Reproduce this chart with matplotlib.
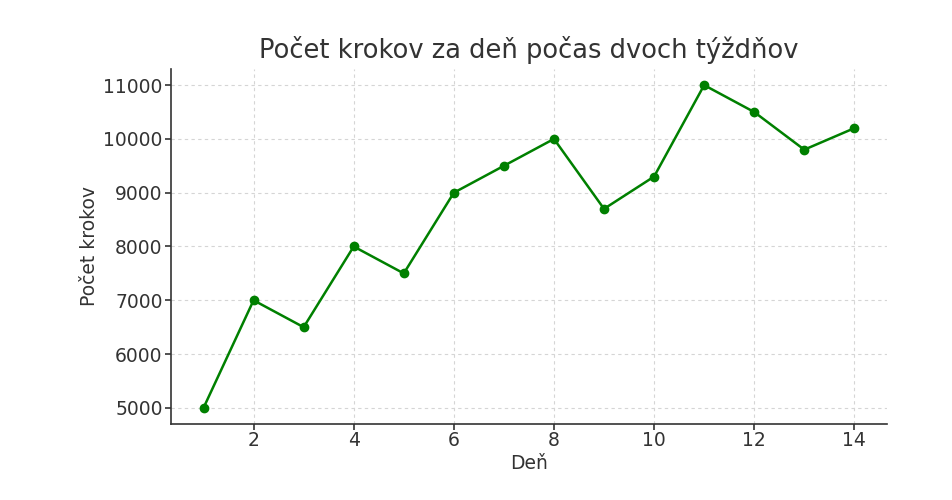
import matplotlib
matplotlib.use("Agg")
import matplotlib.pyplot as plt

days = list(range(1, 15))
steps = [5000, 7000, 6500, 8000, 7500, 9000, 9500, 10000, 8700, 9300, 11000, 10500, 9800, 10200]
title = "Počet krokov za deň počas dvoch týždňov"
xlabel = "Deň"
ylabel = "Počet krokov"

plt.rcParams['font.family'] = ['DejaVu Sans']
txt = '#333333'
fig = plt.figure(figsize=(9.52, 5.0), dpi=100)
ax = fig.add_axes([0.1796, 0.152, 0.752, 0.710])
ax.plot(days, steps, color='green', marker='o', linewidth=1.8, markersize=6)
ax.set_title(title, fontsize=18.5, color=txt, pad=8)
ax.set_xlabel(xlabel, fontsize=13.5, color=txt, labelpad=3)
ax.set_ylabel(ylabel, fontsize=13.5, color=txt, labelpad=3)
ax.tick_params(labelsize=13.5, colors=txt, length=4.5, width=1.2, pad=1.5)
ax.tick_params(axis='x', pad=0.5)
ax.grid(True, linestyle=(0, (3, 3)), color='#d5d5d5', linewidth=0.8)
ax.set_axisbelow(True)
for s in ['top', 'right']:
    ax.spines[s].set_visible(False)
for s in ['left', 'bottom']:
    ax.spines[s].set_color(txt)
    ax.spines[s].set_linewidth(1.2)
ax.set_xticks([2, 4, 6, 8, 10, 12, 14])
fig.savefig("out.png", dpi=100)
